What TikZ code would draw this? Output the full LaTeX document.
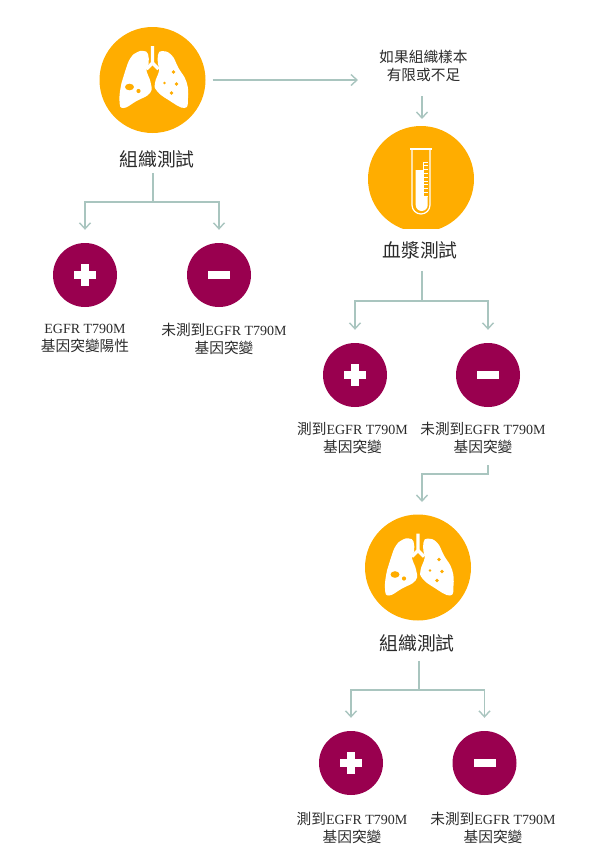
\documentclass[tikz,border=0pt]{standalone}
\usepackage{fontspec}
\setmainfont{Liberation Serif}
\newfontfamily\cjk[Scale=1.05]{Noto Sans CJK TC}
\definecolor{mAmber}{HTML}{FFAD00}
\definecolor{mWine}{HTML}{99004F}
\definecolor{mSage}{HTML}{A9C5BF}
\definecolor{mInk}{HTML}{2B2B2B}
\usetikzlibrary{arrows.meta, positioning}
\tikzset{
  testdot/.style={circle, fill=mAmber, minimum size=106pt, inner sep=0pt},
  signdot/.style={circle, fill=mWine, minimum size=64pt, inner sep=0pt},
  headtext/.style={font=\fontsize{17.9}{22}\selectfont, text=mInk, inner sep=1pt},
  smalltext/.style={font=\fontsize{14}{18}\selectfont, text=mInk, align=center, inner sep=1pt},
  trunk/.style={draw=mSage, line width=1.4pt},
  link/.style={draw=mSage, line width=1.4pt, -{Straight Barb[length=6pt,width=11pt,line width=1.4pt]}},
  lungs/.pic={
    \fill[white] plot[smooth cycle, tension=0.8] coordinates {(-9,-29) (-4.5,-26) (-4,-16) (-6,-9) (-2,2) (-2.5,13) (-16,21) (-29,28) (-33,21) (-31,3) (-27,-10) (-22,-22) (-15,-28)};
    \fill[white] plot[smooth cycle, tension=0.8] coordinates {(9.5,-29) (19,-25) (26,-12) (34,2) (35.5,18) (32,28) (16,20) (4.5,11) (2.5,3) (6.5,-9) (5.5,-16) (5.5,-25)};
    \draw[white, line width=3.4pt] (0,-34) -- (0,-17) -- (-6,-11);
    \draw[white, line width=3.4pt] (0,-17) -- (6,-11);
    \fill[mAmber] (-23,7) ellipse (4.5 and 3.3);
    \foreach \x/\y/\r in {-14/11/2.1, 21/-8/1.8, 12/3/1.4, 24/4/1.8, 19/13/1.9}{
      \fill[mAmber] (\x,\y) circle (\r);}
  }
}
\begin{document}
\begin{tikzpicture}[x=1pt, y=-1pt]
  \useasboundingbox (0,0) rectangle (595,852);
  % amber test circles
  \node[testdot] (tissueA) at (152.5,80) {};
  \node[testdot] (plasma) at (421,179) {};
  \node[testdot] (tissueB) at (418,567.5) {};
  \pic at (tissueA) {lungs};
  \pic at (tissueB) {lungs};
  % the plasma circle is cut flat at the bottom
  \fill[white] (365,229) rectangle (477,234);
  \draw[white, line width=1.2pt] (412,149) -- (412,205) arc[start angle=180, end angle=0, radius=9] -- (430,149);
  \draw[white, line width=1.4pt] (410,149) -- (432,149);
  \fill[white] (415.7,170) -- (423.3,170) -- (423.3,197) -- (427.7,197) -- (427.7,205) arc[start angle=0, end angle=180, radius=6] -- cycle;
  \draw[white, line width=0.8pt] (423.6,162) -- (423.6,197);
  \foreach \i in {0,...,9}{
    \draw[white, line width=1pt] (423,162+\i*3.8) -- (428,162+\i*3.8);}
  % plus and minus circles
  \foreach \n/\x/\y in {plusA/85/275, plusB/355/375, plusC/351/763}{
    \node[signdot] (\n) at (\x,\y) {};
    \fill[white] (\x-11,\y-3.7) rectangle ++(22,7.4);
    \fill[white] (\x-3.7,\y-11) rectangle ++(7.4,22);}
  \foreach \n/\x/\y in {minusA/219/275, minusB/488/375, minusC/484.5/763}{
    \node[signdot] (\n) at (\x,\y) {};
    \fill[white] (\x-11,\y-3.7) rectangle ++(22,7.4);}
  % labels
  \node[smalltext] (ifshort) at (423.5,66) {{\cjk 如果組織樣本}\\{\cjk 有限或不足}};
  \node[headtext] (headA) at (157,159) {\cjk 組織測試};
  \node[headtext] (headB) at (420,250) {\cjk 血漿測試};
  \node[headtext] (headC) at (417,643) {\cjk 組織測試};
  \node[smalltext] (textplusA) at (85,338.5) {EGFR T790M\\{\cjk 基因突變陽性}};
  \node[smalltext] (textminusA) at (224,338.5) {{\cjk 未測到}EGFR T790M\\{\cjk 基因突變}};
  \node[smalltext] (textplusB) at (352.5,438) {{\cjk 測到}EGFR T790M\\{\cjk 基因突變}};
  \node[smalltext] (textminusB) at (483,438) {{\cjk 未測到}EGFR T790M\\{\cjk 基因突變}};
  \node[smalltext] (textplusC) at (352,828) {{\cjk 測到}EGFR T790M\\{\cjk 基因突變}};
  \node[smalltext] (textminusC) at (493,828) {{\cjk 未測到}EGFR T790M\\{\cjk 基因突變}};
  % connectors, the free ends are named
  \coordinate (rightend) at (358,80);
  \coordinate (ifshortend) at (422,119);
  \coordinate (forkA) at (153,202);
  \coordinate (forkB) at (422,301);
  \coordinate (forkC) at (419,690);
  \coordinate (turn) at (488,474);
  \coordinate (intoC) at (422,502);
  \draw[link] ([xshift=7pt]tissueA.east) -- (rightend);
  \draw[link] (ifshortend |- ifshort.south) ++(0,13) -- (ifshortend);
  \draw[trunk] (forkA |- headA.south) ++(0,4) -- (forkA);
  \draw[trunk] (forkB |- headB.south) ++(0,11) -- (forkB);
  \draw[trunk] (forkC |- headC.south) ++(0,8) -- (forkC);
  \foreach \f/\p/\m in {forkA/plusA/minusA, forkB/plusB/minusB, forkC/plusC/minusC}{
    \draw[link, shorten >=13pt] (\f) -| (\p);
    \draw[link, shorten >=13pt] (\f) -| (\m);}
  \draw[link] (turn |- textminusB.south) ++(0,10) -- (turn) -| (intoC);
\end{tikzpicture}
\end{document}
